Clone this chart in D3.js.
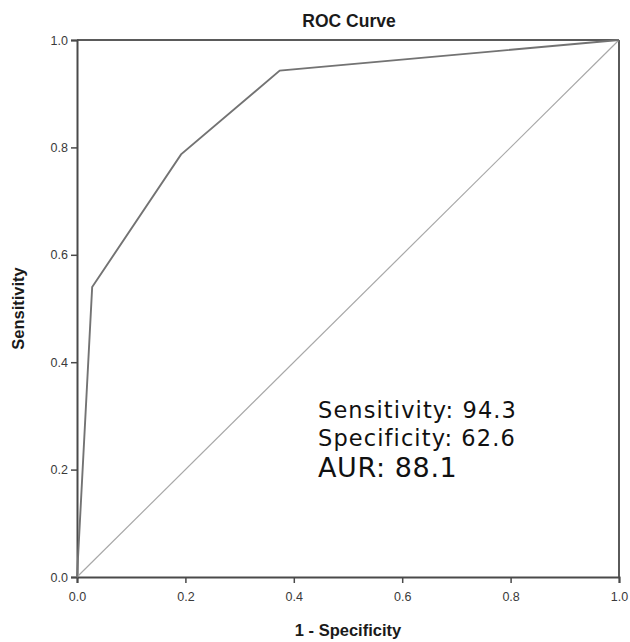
<!DOCTYPE html>
<html>
<head>
<meta charset="utf-8">
<script src="https://cdn.jsdelivr.net/npm/d3@7"></script>
<style>
  html, body { margin: 0; padding: 0; background: #fff; }
  svg { display: block; }
</style>
</head>
<body>
<svg id="chart" width="630" height="642"></svg>
<script>
// ROC curve operating points: false positive rate (1 - specificity) and sensitivity
const fpr = [0, 0.028, 0.192, 0.374, 1];
const tpr = [0, 0.54, 0.787, 0.943, 1];
// reference diagonal (chance line)
const diagX = [0, 1];
const diagY = [0, 1];
const tickValues = [0, 0.2, 0.4, 0.6, 0.8, 1.0];
const statLabels = ["Sensitivity: 94.3", "Specificity: 62.6", "AUR: 88.1"];

const svg = d3.select("#chart");
const plotLeft = 77, plotRight = 619, plotTop = 40, plotBottom = 577;

const x = d3.scaleLinear().domain([0, 1]).range([plotLeft, plotRight]);
const y = d3.scaleLinear().domain([0, 1]).range([plotBottom, plotTop]);

const sansFont = "'Liberation Sans', Arial, sans-serif";

// title
svg.append("text")
  .attr("x", 349).attr("y", 27)
  .attr("text-anchor", "middle")
  .attr("font-family", sansFont)
  .attr("font-weight", "bold")
  .attr("font-size", 17.5)
  .attr("fill", "#1a1a1a")
  .text("ROC Curve");

// frame (top and right)
svg.append("line").attr("x1", plotLeft).attr("x2", plotRight).attr("y1", plotTop).attr("y2", plotTop)
  .attr("stroke", "#5a5a5a").attr("stroke-width", 2);
svg.append("line").attr("x1", plotRight).attr("x2", plotRight).attr("y1", plotTop).attr("y2", plotBottom)
  .attr("stroke", "#5a5a5a").attr("stroke-width", 2);

// axes
const fmt = d3.format(".1f");
const xAxis = svg.append("g").attr("transform", `translate(0,${plotBottom})`)
  .call(d3.axisBottom(x).tickValues(tickValues).tickFormat(fmt).tickSize(6).tickPadding(9));
const yAxis = svg.append("g").attr("transform", `translate(${plotLeft},0)`)
  .call(d3.axisLeft(y).tickValues(tickValues).tickFormat(fmt).tickSize(6).tickPadding(3));

[xAxis, yAxis].forEach(g => {
  g.select(".domain").attr("stroke", "#4a4a4a").attr("stroke-width", 2);
  g.selectAll(".tick line").attr("stroke", "#4a4a4a").attr("stroke-width", 1.5);
  g.selectAll(".tick text")
    .attr("font-family", sansFont)
    .attr("font-size", 12.5)
    .attr("fill", "#3a3a3a");
});

// axis titles
svg.append("text")
  .attr("x", 348).attr("y", 636)
  .attr("text-anchor", "middle")
  .attr("font-family", sansFont)
  .attr("font-weight", "bold")
  .attr("font-size", 16.5)
  .attr("fill", "#1a1a1a")
  .text("1 - Specificity");

svg.append("text")
  .attr("transform", `translate(24,${(plotTop + plotBottom) / 2}) rotate(-90)`)
  .attr("text-anchor", "middle")
  .attr("font-family", sansFont)
  .attr("font-weight", "bold")
  .attr("font-size", 16.5)
  .attr("fill", "#1a1a1a")
  .text("Sensitivity");

// chance diagonal
const line = d3.line().x(d => x(d[0])).y(d => y(d[1]));
svg.append("path")
  .datum(diagX.map((v, i) => [v, diagY[i]]))
  .attr("d", line)
  .attr("fill", "none")
  .attr("stroke", "#a8a8a8")
  .attr("stroke-width", 1.2);

// ROC curve
svg.append("path")
  .datum(fpr.map((v, i) => [v, tpr[i]]))
  .attr("d", line)
  .attr("fill", "none")
  .attr("stroke", "#737373")
  .attr("stroke-width", 1.9);

// summary statistics (wide Verdana-like setting)
const statSizes = [22.5, 22.5, 27];
const statSpacing = [1.1, 1.1, 0.6];
const statY = [418, 446, 477];
statLabels.forEach((t, i) => {
  svg.append("text")
    .attr("x", 318).attr("y", statY[i])
    .attr("font-family", "'DejaVu Sans', Verdana, sans-serif")
    .attr("font-size", statSizes[i])
    .attr("letter-spacing", statSpacing[i])
    .attr("fill", "#111")
    .text(t);
});
</script>
</body>
</html>
